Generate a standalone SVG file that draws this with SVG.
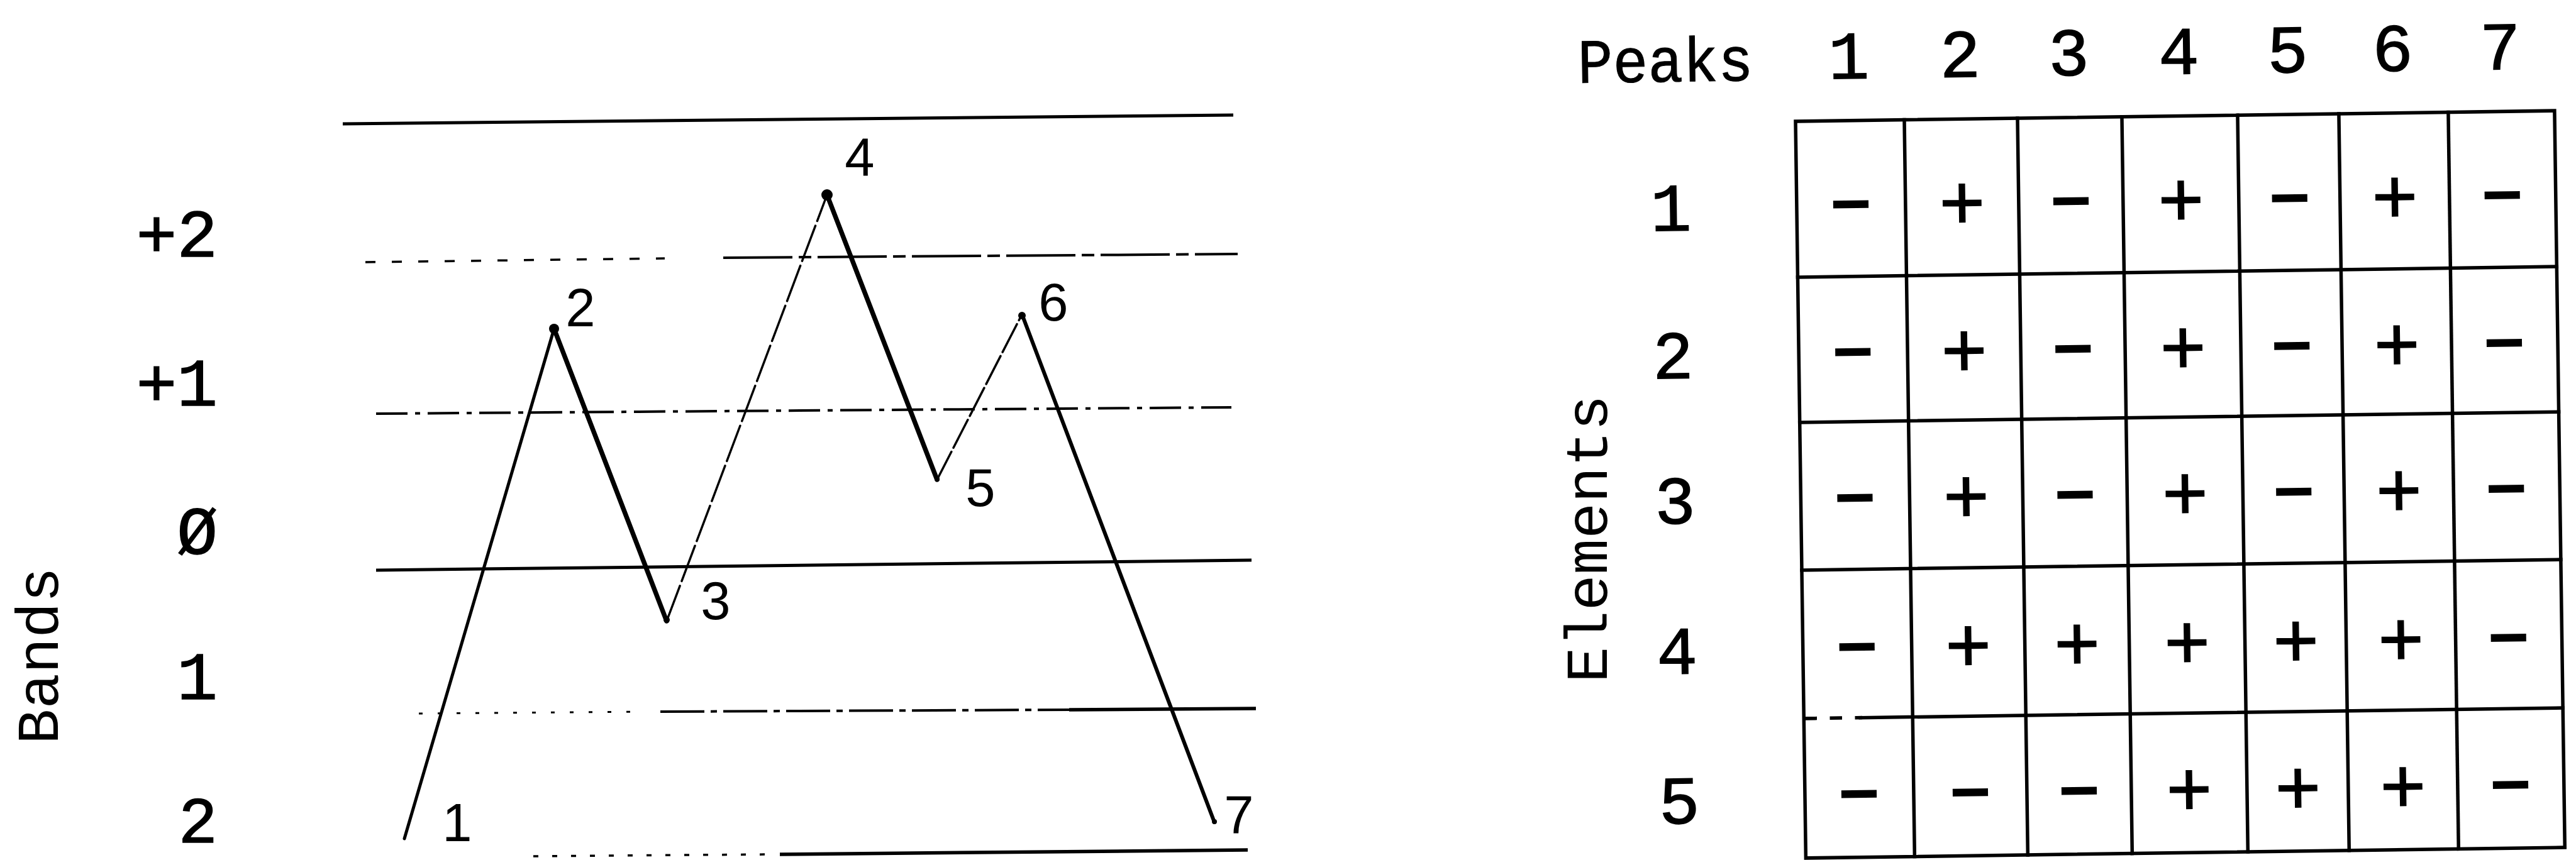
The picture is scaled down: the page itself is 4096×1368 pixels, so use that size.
<svg xmlns="http://www.w3.org/2000/svg" width="4096" height="1368" viewBox="0 0 4096 1368">
<style>
.mono{font-family:"Liberation Mono","DejaVu Sans Mono",monospace;fill:#000}
.lab{font-family:"Liberation Mono","DejaVu Sans Mono",monospace;font-size:108px;fill:#000;stroke:#000;stroke-width:1.5}
.pk{font-family:"Liberation Sans",Arial,sans-serif;font-size:85px;fill:#000;text-anchor:middle}
.sym{font-family:"Liberation Sans",Arial,sans-serif;fill:#000;text-anchor:middle;dominant-baseline:central}
.plus{font-size:124px;stroke:#000;stroke-width:1.5}
.minus{font-size:112px;font-weight:bold}
.grid{stroke:#000;stroke-width:5.5;fill:none;stroke-linecap:square}
.band{stroke:#000;fill:none}
.seg{stroke:#000;fill:none;stroke-linecap:round;stroke-linejoin:round}
</style>
<rect width="4096" height="1368" fill="#fff"/>

<g id="band-axis">
  <text class="mono" font-size="94" text-anchor="middle" textLength="282" lengthAdjust="spacingAndGlyphs" transform="translate(92,1043) rotate(-90)">Bands</text>
  <g class="lab" text-anchor="end">
    <text x="346" y="408">+2</text>
    <text x="346" y="645">+1</text>
    <text x="346" y="881">Ø</text>
    <text x="346" y="1112">1</text>
    <text x="346" y="1340" font-size="104">2</text>
  </g>
</g>

<g id="band-lines">
  <line class="band" x1="545" y1="197" x2="1961" y2="183" stroke-width="5"/>
  <line class="band" x1="581" y1="417" x2="1057" y2="411" stroke-width="3.5" stroke-dasharray="16 26"/>
  <line class="band" x1="1150" y1="410" x2="1968" y2="404" stroke-width="4" stroke-dasharray="110 10 20 10"/>
  <line class="band" x1="598" y1="658" x2="1958" y2="648" stroke-width="4" stroke-dasharray="50 12 8 12"/>
  <line class="band" x1="598" y1="907" x2="1990" y2="891" stroke-width="5"/>
  <line class="band" x1="666" y1="1135" x2="1018" y2="1132" stroke-width="3" stroke-dasharray="6 24"/>
  <line class="band" x1="1050" y1="1132" x2="1700" y2="1129" stroke-width="4" stroke-dasharray="70 10 10 10"/>
  <line class="band" x1="1700" y1="1129" x2="1997" y2="1127" stroke-width="5.5"/>
  <line class="band" x1="848" y1="1362" x2="1227" y2="1359" stroke-width="3.5" stroke-dasharray="8 22"/>
  <line class="band" x1="1240" y1="1359" x2="1984" y2="1352" stroke-width="5.5"/>
</g>

<g id="connectors">
  <line class="seg" x1="643" y1="1334" x2="881" y2="523" stroke-width="5"/>
  <line class="seg" x1="881" y1="523" x2="1060" y2="988" stroke-width="7.5"/>
  <line class="seg" x1="1060" y1="988" x2="1315" y2="310" stroke-width="3.5" stroke-dasharray="60 8"/>
  <line class="seg" x1="1315" y1="310" x2="1490" y2="763" stroke-width="7.5"/>
  <line class="seg" x1="1490" y1="763" x2="1625" y2="500" stroke-width="3.5" stroke-dasharray="50 7"/>
  <line class="seg" x1="1625" y1="500" x2="1931" y2="1308" stroke-width="6"/>
</g>

<g id="peaks">
  <g id="peak-1"><text class="pk" x="727" y="1338">1</text></g>
  <g id="peak-2"><circle cx="881" cy="523" r="8"/><text class="pk" x="923" y="519">2</text></g>
  <g id="peak-3"><circle cx="1060" cy="986" r="5"/><text class="pk" x="1138" y="985">3</text></g>
  <g id="peak-4"><circle cx="1315" cy="310" r="9"/><text class="pk" x="1367" y="279">4</text></g>
  <g id="peak-5"><circle cx="1490" cy="762" r="4"/><text class="pk" x="1559" y="805">5</text></g>
  <g id="peak-6"><circle cx="1625" cy="502" r="6"/><text class="pk" x="1675" y="510">6</text></g>
  <g id="peak-7"><circle cx="1931" cy="1307" r="4"/><text class="pk" x="1970" y="1325">7</text></g>
</g>

<g id="elements-axis">
  <text class="mono" font-size="95" text-anchor="middle" textLength="458" lengthAdjust="spacingAndGlyphs" transform="translate(2555,857) rotate(-90)">Elements</text>
</g>

<g id="table" transform="translate(2855,193) rotate(-0.8)">
  <g id="table-grid">
    <rect class="grid" x="0" y="0" width="1207" height="1172"/>
    <line class="grid" x1="173" y1="0" x2="173" y2="1172"/>
    <line class="grid" x1="353" y1="0" x2="353" y2="1172"/>
    <line class="grid" x1="519" y1="0" x2="519" y2="1172"/>
    <line class="grid" x1="703" y1="0" x2="703" y2="1172"/>
    <line class="grid" x1="864" y1="0" x2="864" y2="1172"/>
    <line class="grid" x1="1038" y1="0" x2="1038" y2="1172"/>
    <line class="grid" x1="0" y1="248" x2="1207" y2="248"/>
    <line class="grid" x1="0" y1="479" x2="1207" y2="479"/>
    <line class="grid" x1="0" y1="714" x2="1207" y2="714"/>
    <line class="grid" x1="4" y1="950" x2="90" y2="950" stroke-dasharray="14 26" stroke-width="3"/>
    <line class="grid" x1="90" y1="950" x2="1207" y2="950"/>
  </g>
  <g id="table-header" class="lab" text-anchor="middle">
    <text x="-345" y="-66" text-anchor="start" font-size="100" stroke-width="1" textLength="279" lengthAdjust="spacingAndGlyphs">Peaks</text>
    <text x="86" y="-67">1</text>
    <text x="263" y="-67">2</text>
    <text x="436" y="-67">3</text>
    <text x="611" y="-67">4</text>
    <text x="784" y="-67">5</text>
    <text x="951" y="-67">6</text>
    <text x="1122" y="-67">7</text>
  </g>
  <g id="table-rows" class="lab" text-anchor="middle">
    <text x="-200" y="171">1</text>
    <text x="-200" y="406">2</text>
    <text x="-200" y="637">3</text>
    <text x="-200" y="876">4</text>
    <text x="-200" y="1114">5</text>
  </g>
  <g id="table-cells">
    <g id="row-1">
      <text class="sym minus" x="86" y="132">−</text>
      <text class="sym plus" x="263" y="132">+</text>
      <text class="sym minus" x="436" y="132">−</text>
      <text class="sym plus" x="611" y="132">+</text>
      <text class="sym minus" x="784" y="132">−</text>
      <text class="sym plus" x="951" y="132">+</text>
      <text class="sym minus" x="1122" y="132">−</text>
    </g>
    <g id="row-2">
      <text class="sym minus" x="86" y="367">−</text>
      <text class="sym plus" x="263" y="367">+</text>
      <text class="sym minus" x="436" y="367">−</text>
      <text class="sym plus" x="611" y="367">+</text>
      <text class="sym minus" x="784" y="367">−</text>
      <text class="sym plus" x="951" y="367">+</text>
      <text class="sym minus" x="1122" y="367">−</text>
    </g>
    <g id="row-3">
      <text class="sym minus" x="86" y="599">−</text>
      <text class="sym plus" x="263" y="599">+</text>
      <text class="sym minus" x="436" y="599">−</text>
      <text class="sym plus" x="611" y="599">+</text>
      <text class="sym minus" x="784" y="599">−</text>
      <text class="sym plus" x="951" y="599">+</text>
      <text class="sym minus" x="1122" y="599">−</text>
    </g>
    <g id="row-4">
      <text class="sym minus" x="86" y="836">−</text>
      <text class="sym plus" x="263" y="836">+</text>
      <text class="sym plus" x="436" y="836">+</text>
      <text class="sym plus" x="611" y="836">+</text>
      <text class="sym plus" x="784" y="836">+</text>
      <text class="sym plus" x="951" y="836">+</text>
      <text class="sym minus" x="1122" y="836">−</text>
    </g>
    <g id="row-5">
      <text class="sym minus" x="86" y="1070">−</text>
      <text class="sym minus" x="263" y="1070">−</text>
      <text class="sym minus" x="436" y="1070">−</text>
      <text class="sym plus" x="611" y="1070">+</text>
      <text class="sym plus" x="784" y="1070">+</text>
      <text class="sym plus" x="951" y="1070">+</text>
      <text class="sym minus" x="1122" y="1070">−</text>
    </g>
  </g>
</g>
</svg>
